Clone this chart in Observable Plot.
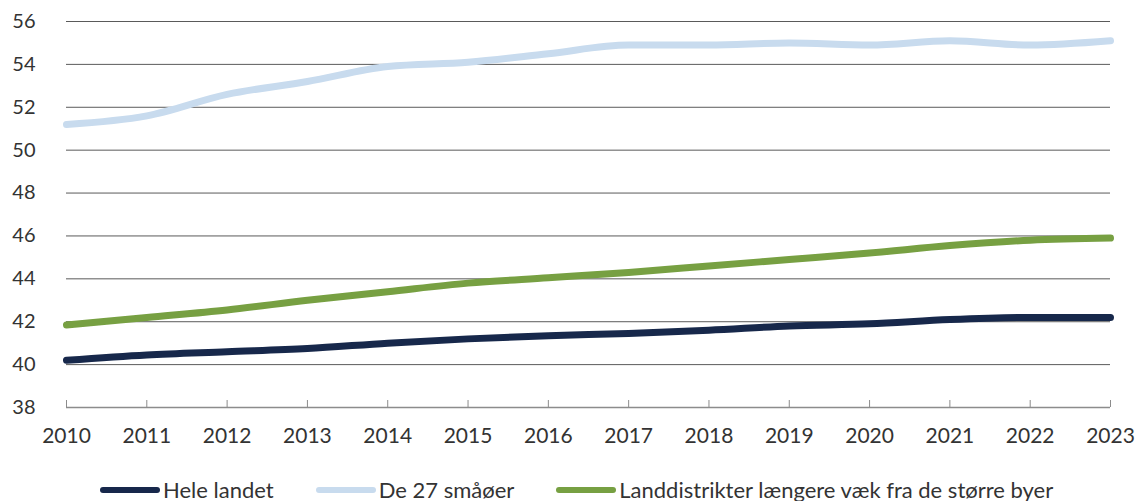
<!DOCTYPE html>
<html>
<head>
<meta charset="utf-8">
<script src="https://cdn.jsdelivr.net/npm/d3@7"></script>
<script src="https://cdn.jsdelivr.net/npm/@observablehq/plot@0.6"></script>
<style>
  body { margin: 0; background: #fff; font-family: Lato, "Open Sans", sans-serif; }
  #chart svg { display: block; }
  .legend { display: flex; align-items: center; padding-left: 100px; padding-top: 18px; height: 23px; line-height: 24px; font-size: 22px; color: #333; font-family: Lato, sans-serif; }
  .legend .item { display: flex; align-items: center; margin-right: 42px; }
  .legend .sw { width: 60px; height: 6px; border-radius: 3px; margin-right: 3px; }
</style>
</head>
<body>
<div id="chart"></div>
<div class="legend" id="legend"></div>
<script>
const years = [2010, 2011, 2012, 2013, 2014, 2015, 2016, 2017, 2018, 2019, 2020, 2021, 2022, 2023];
const seriesNames = ["Hele landet", "De 27 småøer", "Landdistrikter længere væk fra de større byer"];
const heleLandet = [40.2, 40.45, 40.6, 40.75, 41.0, 41.2, 41.35, 41.45, 41.6, 41.8, 41.9, 42.1, 42.2, 42.2];
const smaaoeer = [51.2, 51.6, 52.6, 53.2, 53.9, 54.1, 54.5, 54.9, 54.9, 55.0, 54.9, 55.1, 54.9, 55.1];
const landdistrikter = [41.85, 42.2, 42.55, 43.0, 43.4, 43.8, 44.05, 44.3, 44.6, 44.9, 45.2, 45.55, 45.8, 45.9];
const yTicks = [38, 40, 42, 44, 46, 48, 50, 52, 54, 56];
const colors = ["#17284b", "#c8dbee", "#77a042"];

const allValues = [heleLandet, smaaoeer, landdistrikter];
const data = [];
seriesNames.forEach((s, i) => years.forEach((y, j) => data.push({series: s, year: y, value: allValues[i][j]})));

const plot = Plot.plot({
  width: 1136,
  height: 460,
  marginLeft: 66,
  marginRight: 26,
  marginTop: 21,
  marginBottom: 53,
  style: {fontFamily: "Lato, sans-serif", fontSize: "20px", color: "#333"},
  x: {domain: [2010, 2023], label: null},
  y: {domain: [38, 56], label: null},
  color: {domain: seriesNames, range: colors},
  marks: [
    Plot.ruleY(yTicks.filter(d => d > 38), {stroke: "#5a5a5a", strokeWidth: 1, strokeOpacity: 1}),
    Plot.ruleY([38], {stroke: "#8c8c8c", strokeWidth: 1.5}),
    Plot.axisY({ticks: yTicks, tickSize: 0, tickPadding: 31, label: null, fontSize: 20, fill: "#333"}),
    Plot.axisX({ticks: years, tickSize: 7, dy: -7, stroke: "#8c8c8c", tickFormat: () => "", label: null}),
    Plot.axisX({ticks: years, tickSize: 0, tickPadding: 21, tickFormat: d => String(d), label: null, fontSize: 21, fill: "#333"}),
    Plot.line(data, {x: "year", y: "value", z: "series", stroke: "series", strokeWidth: 7, curve: "monotone-x", strokeLinecap: "round", strokeLinejoin: "round"})
  ]
});
document.getElementById("chart").appendChild(plot);

const legend = document.getElementById("legend");
seriesNames.forEach((s, i) => {
  const item = document.createElement("div");
  item.className = "item";
  const sw = document.createElement("span");
  sw.className = "sw";
  sw.style.background = colors[i];
  const t = document.createElement("span");
  t.textContent = s;
  item.appendChild(sw);
  item.appendChild(t);
  legend.appendChild(item);
});
</script>
</body>
</html>
